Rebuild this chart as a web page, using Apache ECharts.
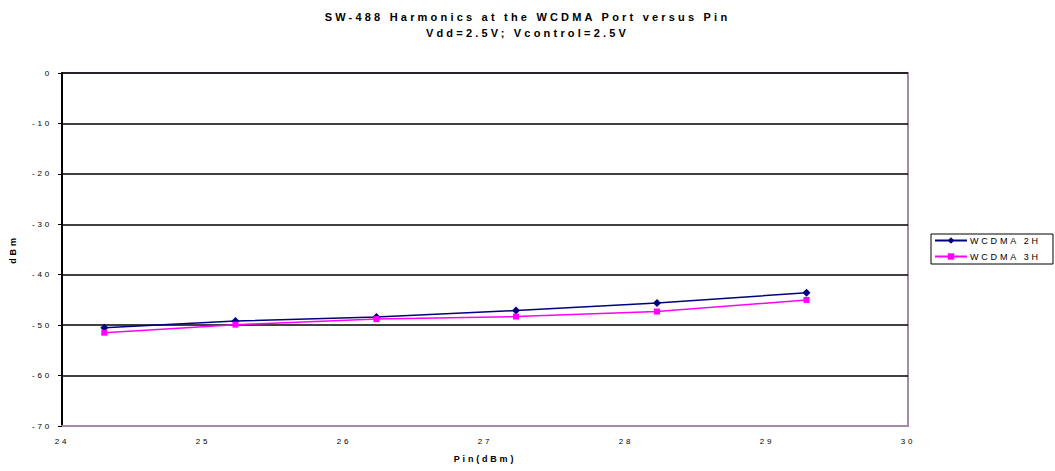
<!DOCTYPE html>
<html>
<head>
<meta charset="utf-8">
<script src="https://cdn.jsdelivr.net/npm/echarts@6/dist/echarts.min.js"></script>
<style>
html,body{margin:0;padding:0;background:#fff;}
#c{width:1055px;height:471px;}
#c text{letter-spacing:2.8px;}
#c text[style*="11px"]{letter-spacing:3.2px;}
</style>
</head>
<body>
<div id="c"></div>
<script>
const pinValues = [24.3, 25.23, 26.23, 27.22, 28.22, 29.28];
const wcdma2H = [-50.5, -49.2, -48.4, -47.1, -45.6, -43.6];
const wcdma3H = [-51.5, -49.9, -48.8, -48.3, -47.3, -45.0];
const seriesNames = ['WCDMA 2H', 'WCDMA 3H'];
const titleText = 'SW-488 Harmonics at the WCDMA Port versus Pin';
const subtitleText = 'Vdd=2.5V; Vcontrol=2.5V';

const chart = echarts.init(document.getElementById('c'), null, {renderer: 'svg'});
const font = 'Liberation Sans, Arial, sans-serif';
chart.setOption({
  animation: false,
  backgroundColor: '#fff',
  title: {
    text: titleText,
    subtext: subtitleText,
    left: 'center',
    top: 6,
    itemGap: 5,
    textStyle: {fontFamily: font, fontSize: 11, fontWeight: 'bold', color: '#000'},
    subtextStyle: {fontFamily: font, fontSize: 11, fontWeight: 'bold', color: '#000'}
  },
  legend: {
    orient: 'vertical',
    left: 931,
    top: 234,
    padding: [2, 34, 3, 3],
    itemGap: 7,
    itemWidth: 32,
    itemHeight: 8,
    borderColor: '#000',
    borderWidth: 1,
    borderRadius: 0,
    textStyle: {fontFamily: font, fontSize: 9, color: '#000', padding: [0, 0, 0, -2]},
    data: seriesNames
  },
  grid: {
    left: 62, right: 147, top: 73, bottom: 45,
    show: true, borderColor: '#a58aa5', borderWidth: 2, backgroundColor: '#fff'
  },
  xAxis: {
    type: 'value', min: 24, max: 30, interval: 1,
    name: 'Pin(dBm)', nameLocation: 'middle', nameGap: 28,
    nameTextStyle: {fontFamily: font, fontSize: 9, fontWeight: 'bold', color: '#000'},
    axisLine: {show: true, onZero: false, lineStyle: {color: '#a58aa5', width: 2}},
    axisTick: {show: false},
    splitLine: {show: false},
    axisLabel: {fontFamily: font, fontSize: 8, color: '#000', margin: 11}
  },
  yAxis: {
    type: 'value', min: -70, max: 0, interval: 10,
    name: 'dBm', nameLocation: 'middle', nameGap: 45, nameRotate: 90,
    nameTextStyle: {fontFamily: font, fontSize: 9, fontWeight: 'bold', color: '#000'},
    axisLine: {show: true, lineStyle: {color: '#000', width: 2}},
    axisTick: {show: true, length: 4, lineStyle: {color: '#000', width: 1}},
    splitLine: {show: true, lineStyle: {color: '#000', width: 1.5}},
    axisLabel: {fontFamily: font, fontSize: 8, color: '#000', margin: 10}
  },
  series: [
    {
      name: seriesNames[0], type: 'line',
      data: pinValues.map((x, i) => [x, wcdma2H[i]]),
      symbol: 'diamond', symbolSize: 8,
      lineStyle: {color: '#000080', width: 1.5},
      itemStyle: {color: '#000080'}
    },
    {
      name: seriesNames[1], type: 'line',
      data: pinValues.map((x, i) => [x, wcdma3H[i]]),
      symbol: 'rect', symbolSize: 6,
      lineStyle: {color: '#ff00ff', width: 1.5},
      itemStyle: {color: '#ff00ff'}
    }
  ]
});
</script>
</body>
</html>
